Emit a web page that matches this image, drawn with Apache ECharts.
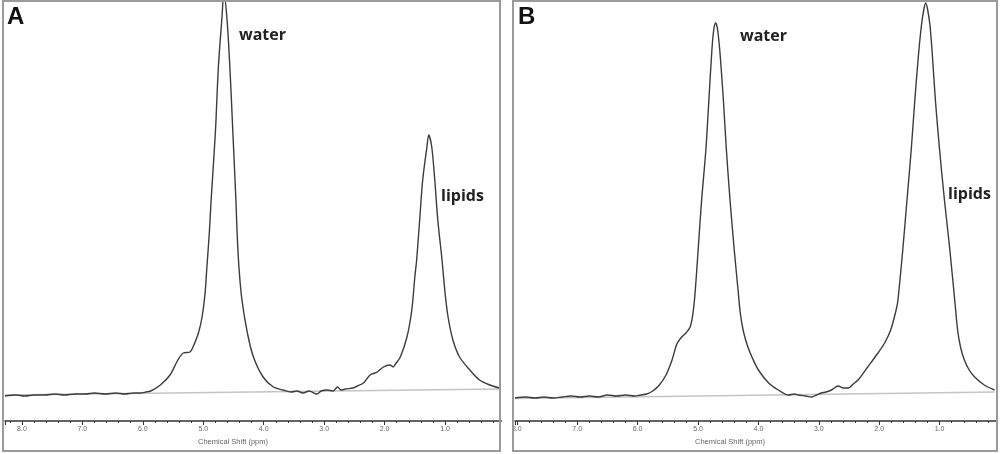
<!DOCTYPE html>
<html>
<head>
<meta charset="utf-8">
<script src="https://cdn.jsdelivr.net/npm/echarts@6/dist/echarts.min.js"></script>
<style>html,body{margin:0;padding:0;background:#fff;}#c{width:1000px;height:454px;}</style>
</head>
<body>
<div id="c"></div>
<script>
// Panel A spectrum (chemical shift ppm, intensity a.u.)
const A_PPM = [8.28,8.10,7.95,7.80,7.62,7.45,7.30,7.12,6.95,6.80,6.62,6.45,6.30,6.15,6.04,5.95,5.87,5.71,5.55,5.42,5.33,5.22,5.17,5.08,5.02,4.97,4.94,4.90,4.87,4.80,4.75,4.69,4.66,4.61,4.56,4.51,4.46,4.44,4.41,4.36,4.27,4.17,4.01,3.84,3.68,3.55,3.45,3.35,3.25,3.12,3.05,2.95,2.85,2.78,2.72,2.65,2.52,2.45,2.35,2.24,2.12,2.02,1.91,1.86,1.82,1.74,1.63,1.55,1.50,1.47,1.42,1.37,1.30,1.27,1.22,1.17,1.12,1.05,1.00,0.95,0.87,0.76,0.59,0.43,0.26,0.10];
const A_INT = [-3,-2,-3,-2,-2,-1,-2,-1,-1,0,-1,0,-1,0,0,1,2,8,18,33,40,41,46,60,76,100,126,160,193,260,326,376,400,376,326,260,193,160,126,93,60,36,16,6,3,1,2,0,2,-1,2,3,2,6,3,4,5,7,10,18,21,26,28,26,29,36,56,83,116,133,173,213,246,258,246,213,173,133,100,76,53,36,23,13,8,5];
// Panel B spectrum
const B_PPM = [8.03,7.85,7.70,7.55,7.40,7.25,7.10,6.95,6.80,6.65,6.50,6.35,6.20,6.05,5.95,5.85,5.75,5.64,5.53,5.43,5.35,5.27,5.20,5.13,5.09,5.06,5.03,4.99,4.94,4.87,4.82,4.77,4.74,4.71,4.68,4.64,4.58,4.53,4.47,4.40,4.34,4.30,4.25,4.18,4.10,4.00,3.83,3.67,3.50,3.40,3.34,3.22,3.12,3.04,2.96,2.88,2.79,2.68,2.60,2.51,2.43,2.35,2.19,2.02,1.91,1.81,1.72,1.69,1.61,1.54,1.47,1.41,1.35,1.30,1.26,1.23,1.20,1.16,1.12,1.07,1.00,0.92,0.83,0.75,0.70,0.65,0.59,0.51,0.42,0.26,0.09];
const B_INT = [-5,-4,-5,-4,-5,-4,-3,-4,-3,-4,-2,-3,-2,-3,-2,-1,2,8,18,33,49,56,60,66,77,92,115,150,193,243,293,343,363,370,365,343,293,243,193,143,105,80,62,47,35,23,10,3,-2,-1,-2,-3,-4,-2,0,1,3,7,5,5,9,13,26,40,50,63,83,93,143,193,243,293,338,368,384,390,384,368,338,293,243,193,143,93,62,45,33,23,16,8,3];
// fitted baselines (endpoints)
const A_BASE_PPM = [8.28, 0.10];
const A_BASE_INT = [-2, 4];
const B_BASE_PPM = [8.03, 0.09];
const B_BASE_INT = [-5.5, 1];
const TICK_LABELS = [1,2,3,4,5,6,7,8];
const PANEL_LABELS = ['A','B'];
const PEAK_LABELS = ['water','lipids'];
const AXIS_TITLE = 'Chemical Shift (ppm)';

const zip = (x, y) => x.map((v, i) => [v, y[i]]);

function xAxisCfg(gi, maxv) {
  return {
    gridIndex: gi, type: 'value', min: 0, max: maxv, interval: 1, inverse: true,
    axisLine: {show: true, onZero: false, lineStyle: {color: '#333', width: 1.5}},
    axisTick: {show: true, length: 4, lineStyle: {color: '#333', width: 1}},
    minorTick: {show: true, splitNumber: 5, length: 2, lineStyle: {color: '#333', width: 1}},
    splitLine: {show: false},
    axisLabel: {
      fontSize: 7, color: '#666', margin: 5, fontFamily: 'Liberation Sans',
      showMinLabel: false, showMaxLabel: false,
      formatter: v => (TICK_LABELS.indexOf(Math.round(v)) >= 0 && Math.abs(v - Math.round(v)) < 1e-6) ? v.toFixed(1) : ''
    }
  };
}
function yAxisCfg(gi) {
  return {gridIndex: gi, type: 'value', min: -28, max: 393, show: false};
}
const lineStyle = {color: '#3c3c3c', width: 1.4};
const baseStyle = {color: '#c4c4c4', width: 1.5};

const chart = echarts.init(document.getElementById('c'), null, {renderer: 'canvas'});
chart.setOption({
  animation: false,
  backgroundColor: '#fff',
  grid: [
    {left: 5, top: 0, width: 500.5, height: 421},
    {left: 515, top: 0, width: 487.7, height: 421}
  ],
  xAxis: [xAxisCfg(0, 8.28), xAxisCfg(1, 8.03)],
  yAxis: [yAxisCfg(0), yAxisCfg(1)],
  series: [
    {type: 'line', xAxisIndex: 0, yAxisIndex: 0, data: zip(A_BASE_PPM, A_BASE_INT), showSymbol: false, lineStyle: baseStyle, z: 1},
    {type: 'line', xAxisIndex: 0, yAxisIndex: 0, data: zip(A_PPM, A_INT), showSymbol: false, smooth: 0.3, clip: true, lineStyle: lineStyle, z: 2},
    {type: 'line', xAxisIndex: 1, yAxisIndex: 1, data: zip(B_BASE_PPM, B_BASE_INT), showSymbol: false, lineStyle: baseStyle, z: 1},
    {type: 'line', xAxisIndex: 1, yAxisIndex: 1, data: zip(B_PPM, B_INT), showSymbol: false, smooth: 0.3, clip: true, lineStyle: lineStyle, z: 2}
  ],
  graphic: [
    {type: 'rect', z: 100, shape: {x: 502, y: 405, width: 9, height: 40}, style: {fill: '#fff'}},
    {type: 'rect', z: 100, shape: {x: 998, y: 405, width: 4, height: 40}, style: {fill: '#fff'}},
    {type: 'rect', z: 101, shape: {x: 3, y: 1, width: 497, height: 450}, style: {fill: 'none', stroke: '#9a9a9a', lineWidth: 2}},
    {type: 'rect', z: 101, shape: {x: 513, y: 1, width: 484, height: 450}, style: {fill: 'none', stroke: '#9a9a9a', lineWidth: 2}},
    {type: 'text', z: 102, style: {text: PANEL_LABELS[0], x: 7, y: 17, fontSize: 24, fontWeight: 'bold', fontFamily: 'Liberation Sans', fill: '#111', verticalAlign: 'middle'}},
    {type: 'text', z: 102, style: {text: PANEL_LABELS[1], x: 518, y: 17, fontSize: 24, fontWeight: 'bold', fontFamily: 'Liberation Sans', fill: '#111', verticalAlign: 'middle'}},
    {type: 'text', z: 102, style: {text: PEAK_LABELS[0], x: 239, y: 35, fontSize: 16, fontWeight: 'bold', fontFamily: 'Open Sans', fill: '#222', verticalAlign: 'middle'}},
    {type: 'text', z: 102, style: {text: PEAK_LABELS[1], x: 441, y: 196, fontSize: 16, fontWeight: 'bold', fontFamily: 'Open Sans', fill: '#222', verticalAlign: 'middle'}},
    {type: 'text', z: 102, style: {text: PEAK_LABELS[0], x: 740, y: 36, fontSize: 16, fontWeight: 'bold', fontFamily: 'Open Sans', fill: '#222', verticalAlign: 'middle'}},
    {type: 'text', z: 102, style: {text: PEAK_LABELS[1], x: 948, y: 194, fontSize: 16, fontWeight: 'bold', fontFamily: 'Open Sans', fill: '#222', verticalAlign: 'middle'}},
    {type: 'text', z: 102, style: {text: AXIS_TITLE, x: 233, y: 442, fontSize: 7.5, fontFamily: 'Liberation Sans', fill: '#666', align: 'center', verticalAlign: 'middle'}},
    {type: 'text', z: 102, style: {text: AXIS_TITLE, x: 730, y: 442, fontSize: 7.5, fontFamily: 'Liberation Sans', fill: '#666', align: 'center', verticalAlign: 'middle'}}
  ]
});
</script>
</body>
</html>
